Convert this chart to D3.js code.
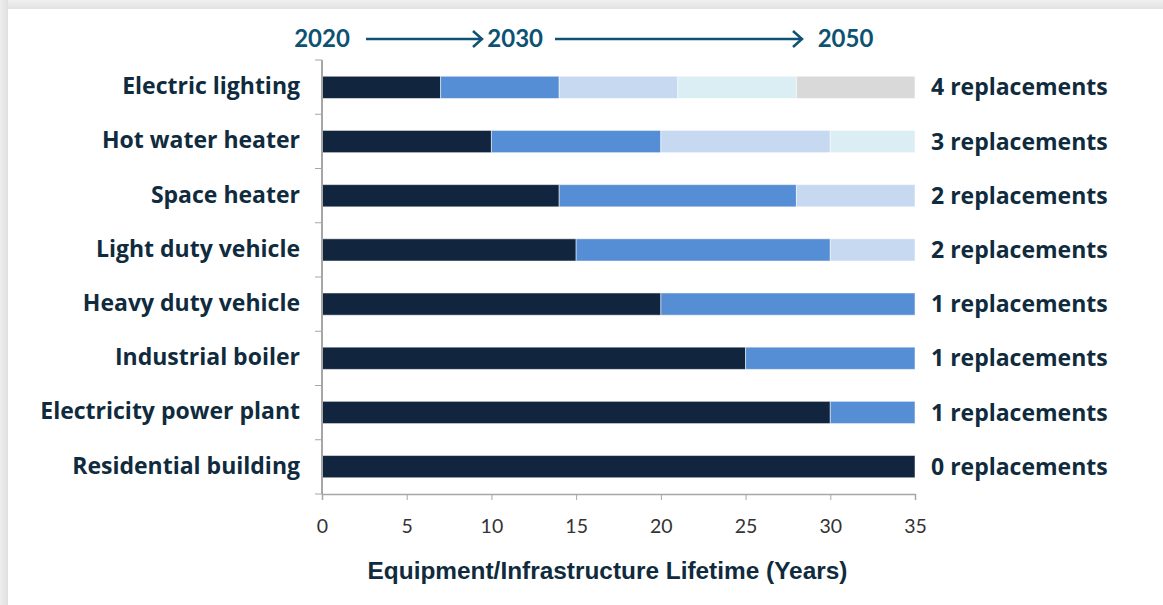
<!DOCTYPE html>
<head>
  <meta charset="utf-8">
  <title>Equipment Lifetime</title>
  <script src="https://d3js.org/d3.v7.min.js"></script>
  <style>
    body { margin: 0; background: #fff; }
    #chart { width: 1163px; height: 605px; display: block; }
    .cat, .rep { font-family: "Open Sans", sans-serif; font-weight: bold; fill: #0f2b3d; font-size: 23px; }
    .tick text { font-family: Lato, "Open Sans", sans-serif; font-size: 19.5px; fill: #333; }
    .tick line, .domain { stroke: #a6a6a6; }
    .title { font-family: "Liberation Sans", Arial, sans-serif; font-weight: bold; font-size: 24.4px; fill: #0f2b3d; }
  </style>
</head>
<body>
  <svg id="chart"></svg>
  <script>
    var width = 1163, height = 605;

    var categories = ["Electric lighting", "Hot water heater", "Space heater", "Light duty vehicle",
                      "Heavy duty vehicle", "Industrial boiler", "Electricity power plant", "Residential building"];
    // segment lengths (years) for each equipment until 2050
    var segments = [
      [7, 7, 7, 7, 7],
      [10, 10, 10, 5],
      [14, 14, 7],
      [15, 15, 5],
      [20, 15],
      [25, 10],
      [30, 5],
      [35]
    ];
    var replacements = ["4 replacements", "3 replacements", "2 replacements", "2 replacements",
                        "1 replacements", "1 replacements", "1 replacements", "0 replacements"];
    var xTicks = [0, 5, 10, 15, 20, 25, 30, 35];
    var years = ["2020", "2030", "2050"];
    var colors = ["#12253f", "#558ed5", "#c6d9f1", "#dbeef4", "#d9d9d9"];

    var svg = d3.select("#chart");

    // frame shadow on top and left
    var grad = svg.append("defs");
    var gl = grad.append("linearGradient").attr("id", "gl").attr("x1", 0).attr("x2", 1).attr("y1", 0).attr("y2", 0);
    gl.append("stop").attr("offset", 0).attr("stop-color", "#eeeeee");
    gl.append("stop").attr("offset", 1).attr("stop-color", "#e0e0e0");
    var gt = grad.append("linearGradient").attr("id", "gt").attr("x1", 0).attr("x2", 0).attr("y1", 0).attr("y2", 1);
    gt.append("stop").attr("offset", 0).attr("stop-color", "#f0f0f0");
    gt.append("stop").attr("offset", 1).attr("stop-color", "#e2e2e2");
    svg.append("rect").attr("x", 0).attr("y", 0).attr("width", width).attr("height", 9).attr("fill", "url(#gt)");
    svg.append("rect").attr("x", 0).attr("y", 0).attr("width", 8).attr("height", height).attr("fill", "url(#gl)");

    var margin = {left: 322, right: 248, top: 60, bottom: 111};
    var x = d3.scaleLinear().domain([0, 35]).range([margin.left, width - margin.right]);
    var y = d3.scaleBand().domain(categories).range([margin.top, height - margin.bottom]).paddingInner(0.59).paddingOuter(0.3);
    var yLines = d3.scaleBand().domain(categories).range([margin.top, height - margin.bottom]);

    // bars
    categories.forEach(function(c, i) {
      var start = 0;
      var parts = segments[i].map(function(v, j) {
        var p = {x0: start, x1: start + v, color: colors[j]};
        start += v;
        return p;
      });
      svg.selectAll(".bar" + i)
        .data(parts)
        .enter()
        .append("rect")
        .attr("x", function(d) { return x(d.x0); })
        .attr("width", function(d) { return x(d.x1) - x(d.x0); })
        .attr("y", y(c))
        .attr("height", y.bandwidth())
        .attr("fill", function(d) { return d.color; })
        .attr("stroke", "#ffffff")
        .attr("stroke-opacity", 0.5)
        .attr("stroke-width", 1);
    });

    // y axis: line with tick marks between categories
    var yAxisG = svg.append("g");
    yAxisG.append("line").attr("class", "domain")
      .attr("x1", x(0)).attr("x2", x(0))
      .attr("y1", margin.top).attr("y2", height - margin.bottom)
      .attr("stroke-width", 2);
    yAxisG.selectAll(".ytick")
      .data(categories.concat(["end"]))
      .enter()
      .append("line")
      .attr("stroke", "#a6a6a6")
      .attr("x1", x(0) - 7).attr("x2", x(0))
      .attr("y1", function(d, i) { return margin.top + i * yLines.step(); })
      .attr("y2", function(d, i) { return margin.top + i * yLines.step(); });

    // x axis
    var xAxis = d3.axisBottom(x).tickValues(xTicks).tickSize(6).tickPadding(19);
    var xg = svg.append("g").attr("transform", "translate(0," + (height - margin.bottom) + ")").call(xAxis);
    xg.select(".domain").attr("stroke-width", 1.5);
    xg.attr("font-family", null).attr("font-size", null);

    // category labels
    svg.selectAll(".cat")
      .data(categories)
      .enter()
      .append("text")
      .attr("class", "cat")
      .attr("x", 300)
      .attr("y", function(d) { return y(d) + y.bandwidth() / 2; })
      .attr("dy", "0.3em")
      .attr("text-anchor", "end")
      .text(function(d) { return d; });

    // replacements labels
    svg.selectAll(".rep")
      .data(replacements)
      .enter()
      .append("text")
      .attr("class", "rep")
      .attr("x", x(35) + 16)
      .attr("y", function(d, i) { return y(categories[i]) + y.bandwidth() / 2; })
      .attr("dy", "0.35em")
      .text(function(d) { return d; });

    // axis title
    svg.append("text")
      .attr("class", "title")
      .attr("x", (x(0) + x(35)) / 2 - 11)
      .attr("y", 579)
      .attr("text-anchor", "middle")
      .text("Equipment/Infrastructure Lifetime (Years)");

    // timeline at top
    var teal = "#0d5272";
    var yearX = [x(0), x(11.4), x(30.9)];
    svg.selectAll(".year")
      .data(years)
      .enter()
      .append("text")
      .attr("x", function(d, i) { return yearX[i]; })
      .attr("y", 47)
      .attr("text-anchor", "middle")
      .style("font-family", "Lato, 'Open Sans', sans-serif")
      .style("font-weight", "bold")
      .style("font-size", "24px")
      .style("fill", teal)
      .text(function(d) { return d; });

    var arrows = [[366, 482], [555, 802]];
    arrows.forEach(function(a) {
      svg.append("line").attr("x1", a[0]).attr("x2", a[1]).attr("y1", 39).attr("y2", 39)
        .attr("stroke", teal).attr("stroke-width", 2.5);
      svg.append("path")
        .attr("d", "M" + (a[1] - 9) + ",31 L" + a[1] + ",39 L" + (a[1] - 9) + ",47")
        .attr("fill", "none").attr("stroke", teal).attr("stroke-width", 2.5);
    });
  </script>
</body>
</html>
